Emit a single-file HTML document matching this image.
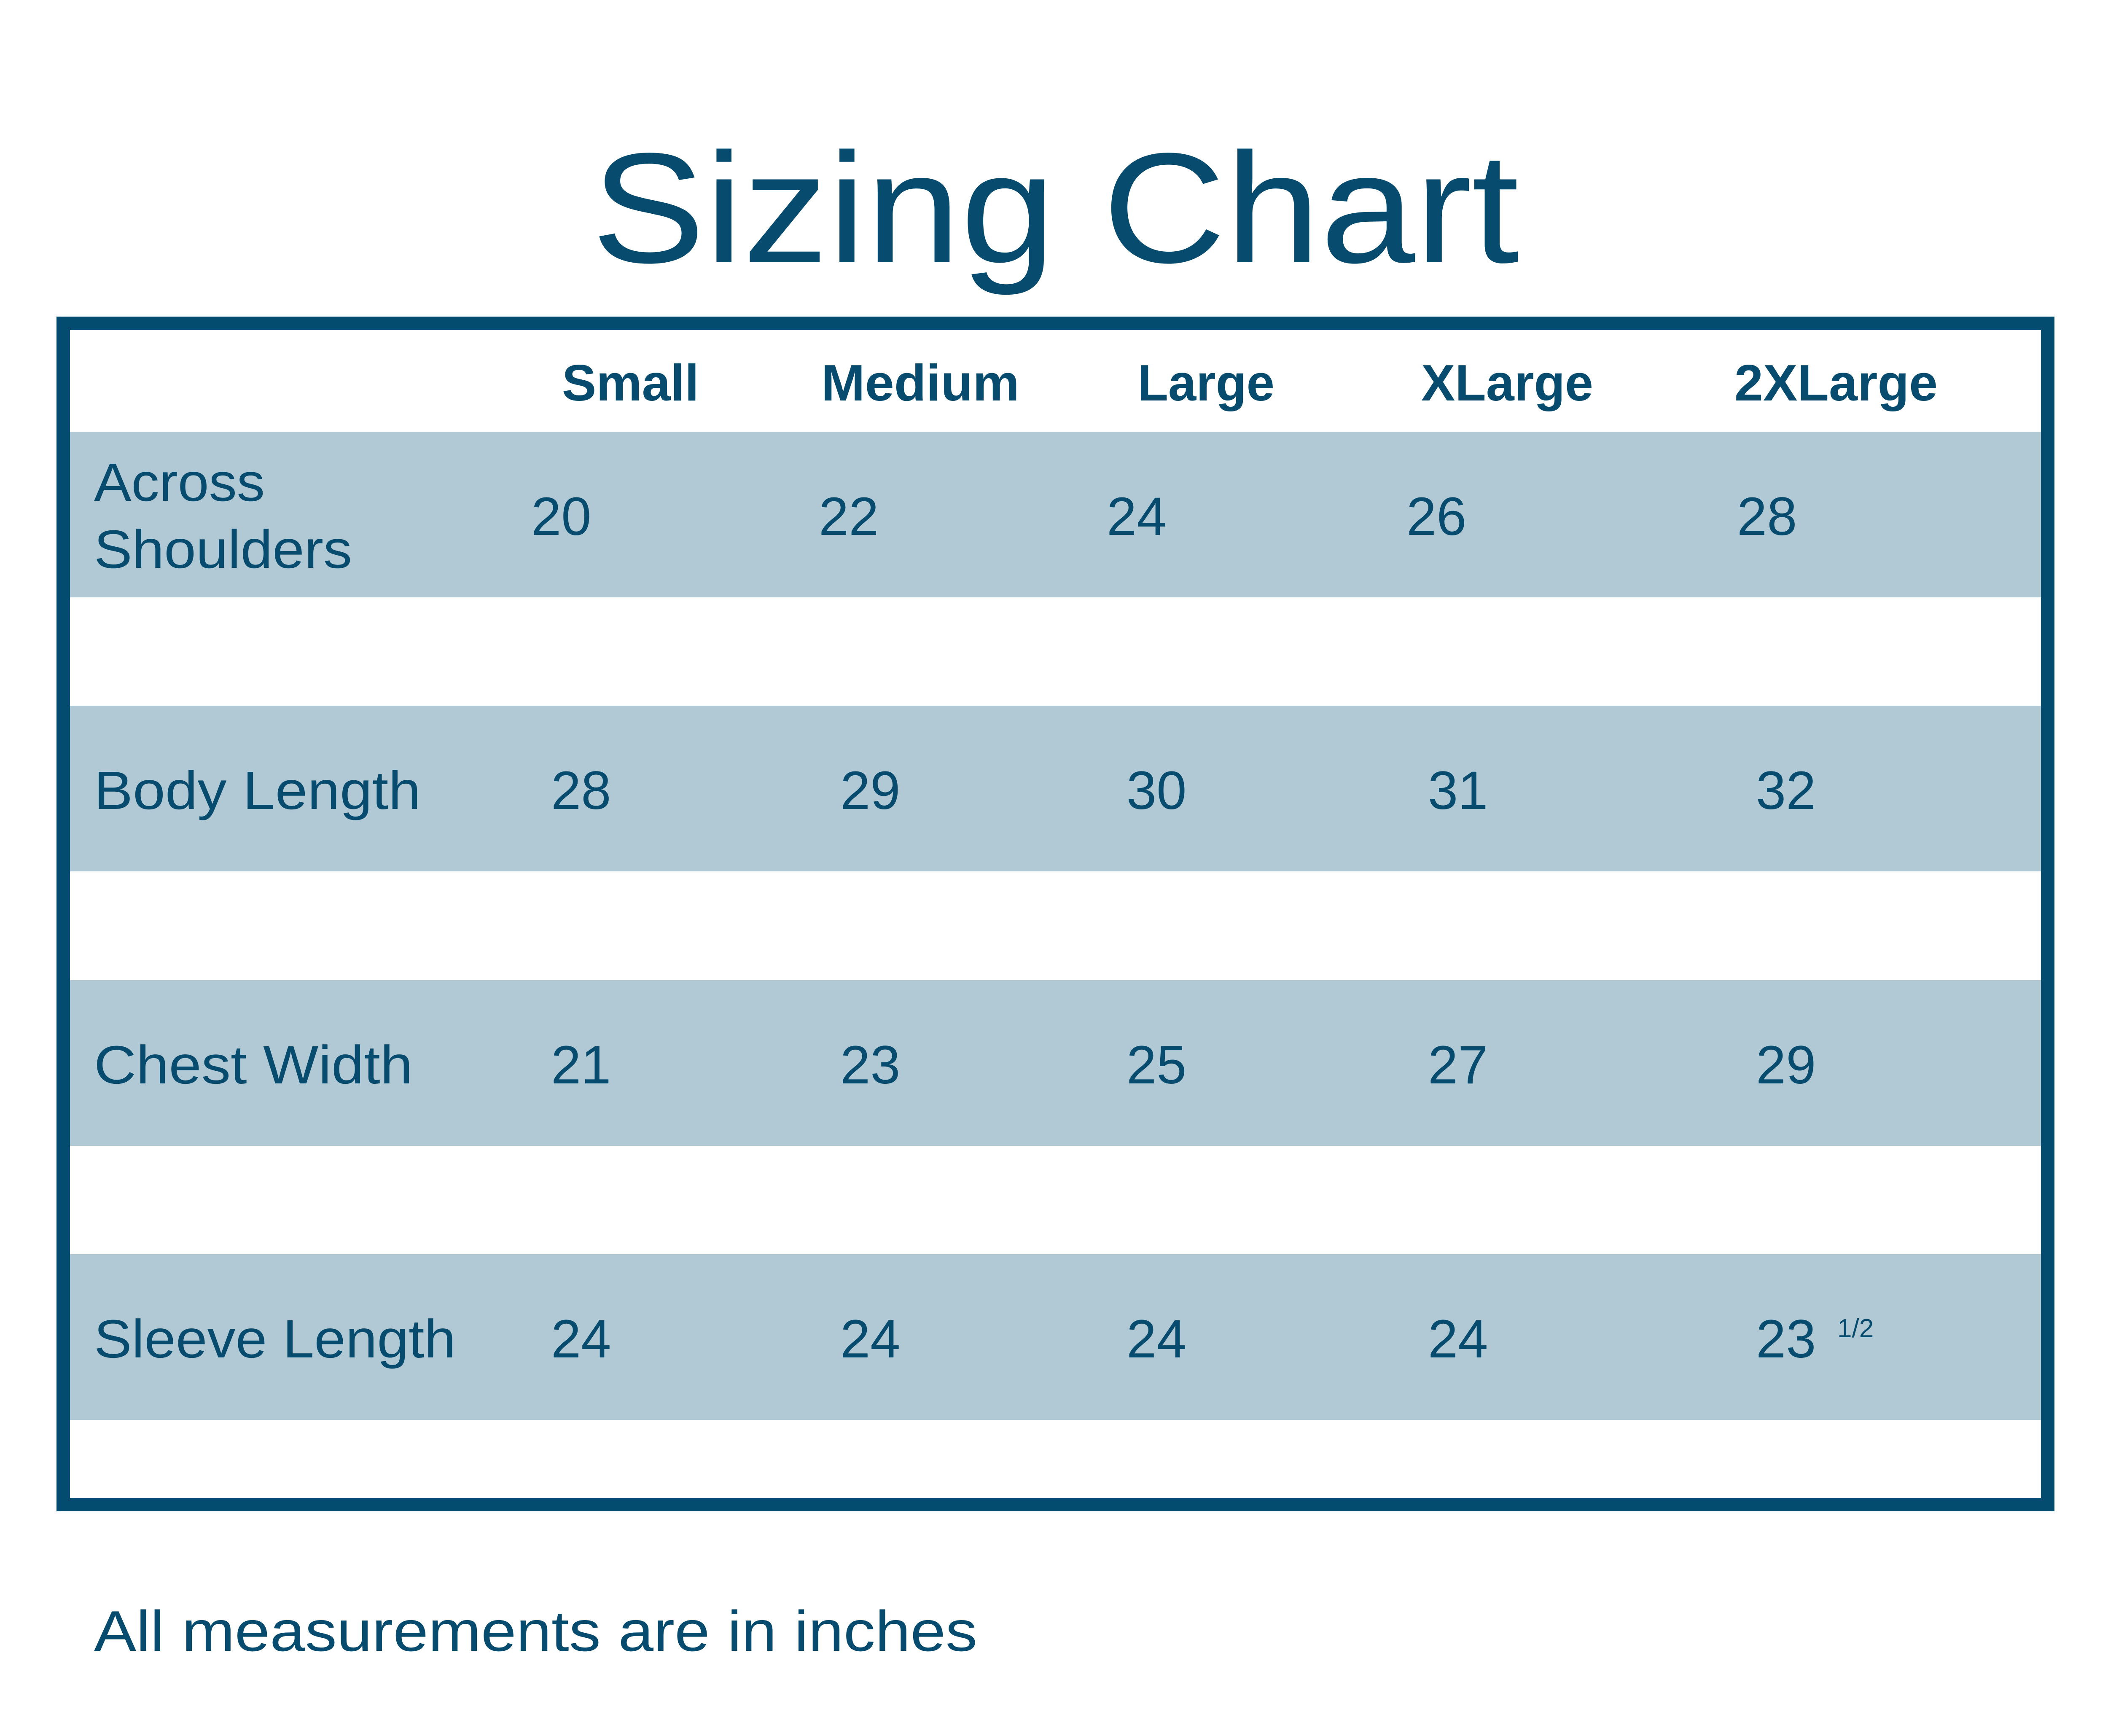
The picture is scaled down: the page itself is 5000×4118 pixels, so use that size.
<!DOCTYPE html>
<html><head><meta charset="utf-8"><style>
html,body{margin:0;padding:0;background:#fff;}
svg{display:block;}
text{font-family:"Liberation Sans",sans-serif;fill:#074b6e;}
</style></head><body>
<svg width="5000" height="4118" viewBox="0 0 5000 4118" xmlns="http://www.w3.org/2000/svg">
<rect width="5000" height="4118" fill="#fff"/>
<text x="1403" y="622" font-size="372" textLength="2200" lengthAdjust="spacingAndGlyphs">Sizing Chart</text>
<rect x="150" y="767" width="4707" height="2802" fill="#fff" stroke="#034c70" stroke-width="32"/>
<g fill="#b1c9d5">
<rect x="166" y="1024" width="4675" height="393"/>
<rect x="166" y="1674" width="4675" height="393"/>
<rect x="166" y="2325" width="4675" height="393"/>
<rect x="166" y="2975" width="4675" height="393"/>
</g>
<g font-size="122" font-weight="bold">
<text x="1333" y="950" textLength="325" lengthAdjust="spacingAndGlyphs">Small</text>
<text x="1948" y="950" textLength="470" lengthAdjust="spacingAndGlyphs">Medium</text>
<text x="2698" y="950" textLength="325" lengthAdjust="spacingAndGlyphs">Large</text>
<text x="3371" y="950" textLength="408" lengthAdjust="spacingAndGlyphs">XLarge</text>
<text x="4114" y="950" textLength="482" lengthAdjust="spacingAndGlyphs">2XLarge</text>
</g>
<g font-size="128">
<text x="223" y="1188" textLength="405" lengthAdjust="spacingAndGlyphs">Across</text>
<text x="223" y="1347" textLength="612" lengthAdjust="spacingAndGlyphs">Shoulders</text>
<text x="1260" y="1269">20</text><text x="1942" y="1269">22</text><text x="2625" y="1269">24</text><text x="3336" y="1269">26</text><text x="4120" y="1269">28</text>

<text x="223" y="1919" textLength="775" lengthAdjust="spacingAndGlyphs">Body Length</text>
<text x="1307" y="1919">28</text><text x="1993" y="1919">29</text><text x="2672" y="1919">30</text><text x="3387" y="1919">31</text><text x="4165" y="1919">32</text>

<text x="223" y="2570" textLength="756" lengthAdjust="spacingAndGlyphs">Chest Width</text>
<text x="1307" y="2570">21</text><text x="1993" y="2570">23</text><text x="2672" y="2570">25</text><text x="3387" y="2570">27</text><text x="4165" y="2570">29</text>

<text x="223" y="3220" textLength="858" lengthAdjust="spacingAndGlyphs">Sleeve Length</text>
<text x="1307" y="3220">24</text><text x="1993" y="3220">24</text><text x="2672" y="3220">24</text><text x="3387" y="3220">24</text><text x="4165" y="3220">23</text>
</g>
<text x="4358" y="3172" font-size="62">1/2</text>
<text x="223" y="3916" font-size="136" textLength="2095" lengthAdjust="spacingAndGlyphs">All measurements are in inches</text>
</svg>
</body></html>
